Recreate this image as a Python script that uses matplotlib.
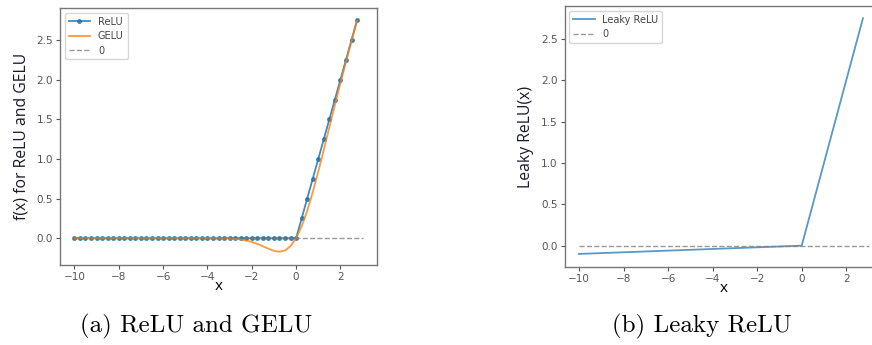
import matplotlib
matplotlib.use("Agg")
import matplotlib.pyplot as plt

# ---- data ----
x_grid = [-10.0, -9.75, -9.5, -9.25, -9.0, -8.75, -8.5, -8.25, -8.0, -7.75,
          -7.5, -7.25, -7.0, -6.75, -6.5, -6.25, -6.0, -5.75, -5.5, -5.25,
          -5.0, -4.75, -4.5, -4.25, -4.0, -3.75, -3.5, -3.25, -3.0, -2.75,
          -2.5, -2.25, -2.0, -1.75, -1.5, -1.25, -1.0, -0.75, -0.5, -0.25,
          0.0, 0.25, 0.5, 0.75, 1.0, 1.25, 1.5, 1.75, 2.0, 2.25, 2.5, 2.75]
relu_y = [0.0] * 41 + [0.25, 0.5, 0.75, 1.0, 1.25, 1.5, 1.75, 2.0, 2.25, 2.5, 2.75]
gelu_y = [0.0] * 26 + [-0.001, -0.002, -0.004, -0.008, -0.016, -0.028, -0.046,
                       -0.070, -0.100, -0.132, -0.159, -0.170, -0.154, -0.099,
                       0.0, 0.149, 0.346, 0.580, 0.841, 1.118, 1.400, 1.680,
                       1.955, 2.223, 2.485, 2.742]
leaky_x = [-10.0, 0.0, 2.75]
leaky_y = [-0.1, 0.0, 2.75]
zero_x = [-10.0, 3.0]
zero_y = [0.0, 0.0]

xticks = [-10, -8, -6, -4, -2, 0, 2]
yticks = [0.0, 0.5, 1.0, 1.5, 2.0, 2.5]

W, H = 872, 345
fig = plt.figure(figsize=(W / 100, H / 100), dpi=100)

def px_axes(l, t, r, b):
    return fig.add_axes([l / W, 1 - b / H, (r - l) / W, (b - t) / H])

tick_col = "#555555"
spine_col = "#777777"

def style(ax):
    for s in ax.spines.values():
        s.set_color(spine_col)
        s.set_linewidth(1.0)
    ax.tick_params(colors=tick_col, labelsize=7.5, length=3, width=0.8, pad=2)
    ax.set_xticks(xticks)
    ax.set_yticks(yticks)

# ---- left panel ----
ax1 = px_axes(60, 8, 377, 265)
ax1.plot(x_grid, relu_y, color="#1f77b4", marker=".", markersize=5, lw=1.3,
         alpha=0.85, label="ReLU")
ax1.plot(x_grid, gelu_y, color="#ff7f0e", lw=1.3, alpha=0.8, label="GELU")
ax1.plot(zero_x, zero_y, color="gray", ls="--", lw=1.0, alpha=0.8, label="0")
style(ax1)
ax1.set_xlim(-10.65, 3.65)
ax1.set_ylim(-0.337, 2.904)
ax1.set_xlabel("x", fontsize=11, family="Open Sans", labelpad=-2)
ax1.set_ylabel("f(x) for ReLU and GELU", fontsize=11.3, family="Open Sans",
               color="#1a1a2e", labelpad=5)
leg1 = ax1.legend(loc="upper left", fontsize=7, frameon=True, handlelength=2.2,
                  borderpad=0.4, labelspacing=0.45)
for t in leg1.get_texts():
    t.set_color("#444444")

# ---- right panel ----
ax2 = px_axes(564.5, 6, 883, 267)
ax2.plot(leaky_x, leaky_y, color="#1f77b4", lw=1.3, alpha=0.75, label="Leaky ReLU")
ax2.plot(zero_x, zero_y, color="gray", ls="--", lw=1.0, alpha=0.8, label="0")
style(ax2)
ax2.set_xlim(-10.65, 3.65)
ax2.set_ylim(-0.258, 2.898)
ax2.set_xlabel("x", fontsize=11, family="Open Sans", labelpad=-2)
ax2.set_ylabel("Leaky ReLU(x)", fontsize=11.3, family="Open Sans",
               color="#1a1a2e", labelpad=5)
leg2 = ax2.legend(loc="upper left", fontsize=7, frameon=True, handlelength=2.2,
                  borderpad=0.4, labelspacing=0.45)
for t in leg2.get_texts():
    t.set_color("#444444")

# ---- captions ----
fig.text(196 / W, 1 - 326 / H, "(a) ReLU and GELU", ha="center", va="center",
         fontsize=18, family="cmr10")
fig.text(702 / W, 1 - 326 / H, "(b) Leaky ReLU", ha="center", va="center",
         fontsize=18, family="cmr10")

fig.savefig("out.png", dpi=100)
